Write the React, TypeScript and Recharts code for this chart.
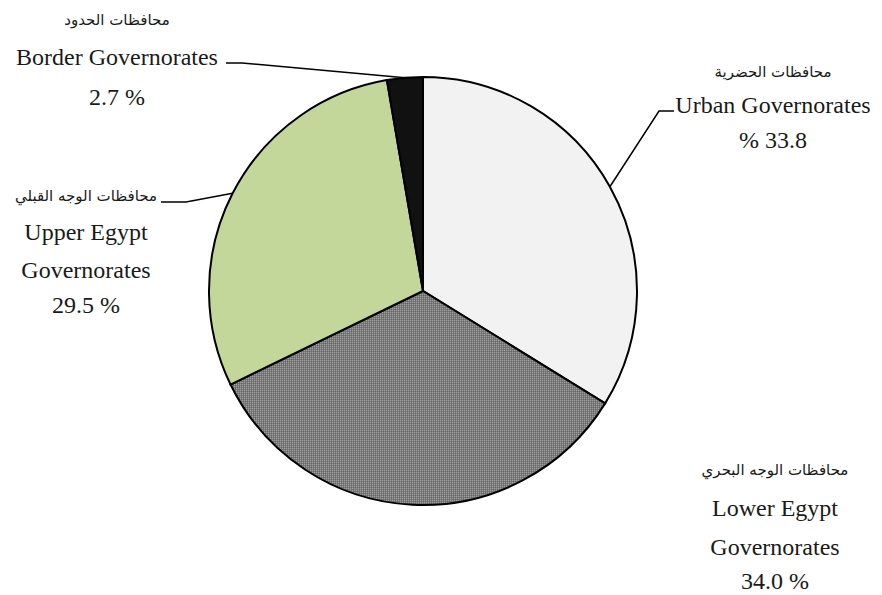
import React from "react";
import { PieChart, Pie, Cell } from "recharts";

const categories = [
  "Urban Governorates",
  "Lower Egypt Governorates",
  "Upper Egypt Governorates",
  "Border Governorates",
];
const arabicNames = [
  "محافظات الحضرية",
  "محافظات الوجه البحري",
  "محافظات الوجه القبلي",
  "محافظات الحدود",
];
const englishLines = [
  ["Urban Governorates"],
  ["Lower Egypt", "Governorates"],
  ["Upper Egypt", "Governorates"],
  ["Border Governorates"],
];
const shares = [33.8, 34.0, 29.5, 2.7];
const shareLabels = ["% 33.8", "34.0 %", "29.5 %", "2.7 %"];

const fills = ["#f2f2f2", "url(#checker)", "#c4d79b", "#111111"];

// where each label block sits, and where its leader line leaves the text
const labelLayout = [
  { x: 773, rows: [72, 105, 140], leader: [[674, 111], [659, 111]] },
  { x: 775, rows: [470, 508, 547, 581], leader: null },
  { x: 86, rows: [196, 232, 270, 305], leader: [[161, 202], [186, 202]] },
  { x: 117, rows: [20, 57, 97], leader: [[226, 63], [242, 63]] },
];

const data = categories.map((name, i) => ({ name, value: shares[i] }));

const RAD = Math.PI / 180;

const serif = "'Liberation Serif', 'Times New Roman', 'DejaVu Serif', serif";
const arabicFont = "'DejaVu Sans', sans-serif";

const renderLabel = (props: any) => {
  const { cx, cy, midAngle, outerRadius, index } = props;
  const layout = labelLayout[index];
  const ex = cx + outerRadius * Math.cos(-midAngle * RAD);
  const ey = cy + outerRadius * Math.sin(-midAngle * RAD);
  const lines = [arabicNames[index], ...englishLines[index], shareLabels[index]];
  return (
    <g key={`label-${index}`}>
      {layout.leader && (
        <polyline
          points={`${layout.leader.map((p) => p.join(",")).join(" ")} ${ex},${ey}`}
          fill="none"
          stroke="#000"
          strokeWidth={1.5}
        />
      )}
      {lines.map((t, j) => (
        <text
          key={j}
          x={layout.x}
          y={layout.rows[j]}
          textAnchor="middle"
          dominantBaseline="central"
          fill="#1a1a1a"
          style={{
            fontFamily: j === 0 ? arabicFont : serif,
            fontSize: j === 0 ? 15 : 24,
            direction: j === 0 ? "rtl" : "ltr",
          }}
        >
          {t}
        </text>
      ))}
    </g>
  );
};

export default function App() {
  return (
    <div style={{ position: "absolute", left: 0, top: 0, background: "#fff" }}>
      <PieChart width={882} height={595} margin={{ top: 0, right: 0, bottom: 0, left: 0 }}>
        <defs>
          <pattern id="checker" width="2" height="2" patternUnits="userSpaceOnUse">
            <rect width="2" height="2" fill="#7a7a7a" />
            <rect width="1" height="1" fill="#a0a0a0" />
            <rect x="1" y="1" width="1" height="1" fill="#666666" />
          </pattern>
        </defs>
        <Pie
          data={data}
          dataKey="value"
          nameKey="name"
          cx={423}
          cy={291}
          outerRadius={214}
          startAngle={90}
          endAngle={-270}
          stroke="#000"
          strokeWidth={2}
          label={renderLabel}
          labelLine={false}
          isAnimationActive={false}
        >
          {data.map((d, i) => (
            <Cell key={d.name} fill={fills[i]} />
          ))}
        </Pie>
      </PieChart>
    </div>
  );
}
